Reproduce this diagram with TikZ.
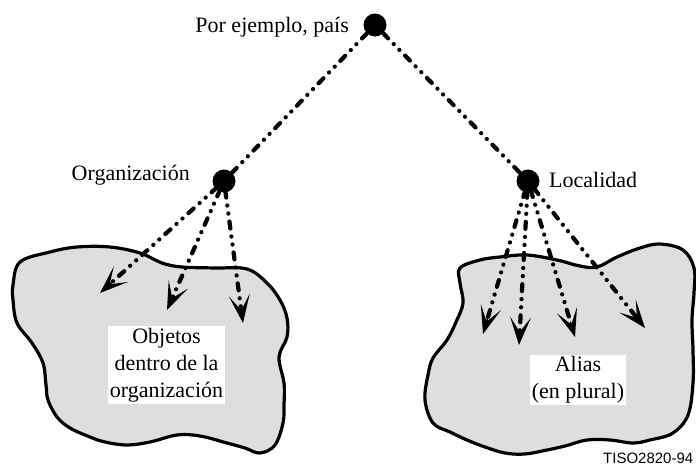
\documentclass[tikz,border=0pt]{standalone}
\usepackage{fontspec}
\setmainfont{Liberation Serif}
\newfontfamily\arialfont{Liberation Sans}
\usetikzlibrary{arrows.meta,calc}
\tikzset{
  dotnode/.style={circle,fill=black,inner sep=0pt,minimum size=23pt},
  link/.style={line width=4.2pt,line cap=round,dash pattern=on 7pt off 8pt on 0.1pt off 8pt on 0.1pt off 8pt},
  arr/.style={link,shorten >=14pt,shorten <=-2pt},
  head/.style={solid,line width=1.5pt,line join=miter,-{Stealth[length=28pt,width=21pt,inset=15pt]}},
  blob/.style={draw=black,line width=3.2pt,fill=black!13,line join=round},
  lbl/.style={font=\fontsize{22}{27}\selectfont,inner sep=0pt},
  boxtext/.style={fill=white,align=center,font=\fontsize{22}{27}\selectfont,inner sep=2pt}
}
\begin{document}
\begin{tikzpicture}[x=1pt,y=-1pt]
\clip (0,0) rectangle (696,466);
\fill[white] (0,0) rectangle (696,466);
% blobs
\draw[blob] plot[smooth cycle,tension=0.6] coordinates {
(20,262) (50,252) (77,247) (110,247) (140,253) (162,263) (182,267) (215,268) (247,269) (267,283) (280,300) (287,318) (287,337) (279,357) (284,383) (284,405) (283,423) (275,445) (260,453) (245,448) (227,443) (200,436) (177,435) (150,442) (127,445) (105,442) (90,437) (70,428) (57,417) (48,400) (46,385) (43,363) (32,343) (17,323) (13,300) (13,285)};
\draw[blob] plot[smooth cycle,tension=0.6] coordinates {
(460,268) (480,260) (500,257) (527,255) (557,260) (580,266) (597,267) (617,257) (640,248) (660,244) (683,250) (694,268) (694,293) (692,320) (693,350) (693,383) (688,415) (673,433) (650,440) (633,443) (610,440) (587,440) (565,446) (547,450) (525,454) (505,453) (485,447) (467,440) (450,432) (433,423) (425,400) (428,375) (433,358) (447,340) (456,322) (463,303) (460,283)};
% nodes
\node[dotnode] (top) at (375,25) {};
\node[dotnode] (org) at (224,181) {};
\node[dotnode] (loc) at (528,181) {};
\node[lbl,anchor=base east] (ltop) at (349,32) {Por ejemplo, país};
\node[lbl,anchor=base east] (lorg) at (190,180) {Organización};
\node[lbl,anchor=base west] (lloc) at (549,187) {Localidad};
% tips
\coordinate (a1) at (100,293);
\coordinate (a2) at (167,310);
\coordinate (a3) at (243,323);
\coordinate (b1) at (483,334);
\coordinate (b2) at (519,345);
\coordinate (b3) at (575,337);
\coordinate (b4) at (645,328);
% connectors
\draw[link] (top) -- (org);
\draw[link] (top) -- (loc);
\foreach \s/\t in {org/a1,org/a2,org/a3,loc/b1,loc/b2,loc/b3,loc/b4}{
  \draw[arr] (\s) -- (\t);
  \draw[head] ($(\t)!16pt!(\s)$) -- (\t);
}
% boxes
\node[boxtext] (objs) at (166.5,365) {Objetos\\dentro de la\\organización};
\node[boxtext] (alias) at (578,380) {Alias\\(en plural)};
\node[inner sep=0pt,anchor=base west,font=\arialfont\fontsize{15}{18}\selectfont] (code) at (603,463) {TISO2820-94};
\end{tikzpicture}
\end{document}
